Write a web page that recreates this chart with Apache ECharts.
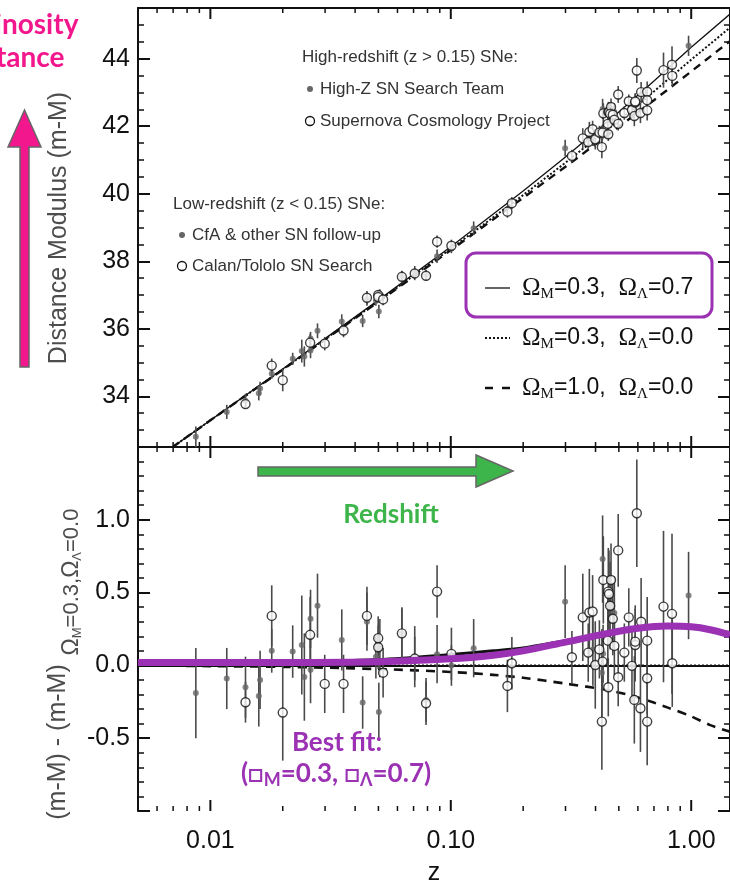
<!DOCTYPE html>
<html>
<head>
<meta charset="utf-8">
<script src="https://cdn.jsdelivr.net/npm/echarts@6/dist/echarts.min.js"></script>
<style>
  html, body { margin: 0; padding: 0; background: #fff; }
  #chart { width: 730px; height: 882px; }
</style>
</head>
<body>
<div id="chart"></div>
<script>
// ---- supernova data: redshift, distance modulus (top), residual (bottom), error ----
// low-redshift, CfA & other SN follow-up (filled)
const cfaZ   = [0.0087, 0.0117, 0.0140, 0.0159, 0.0161, 0.0180, 0.0220, 0.0240, 0.0246, 0.0261, 0.0279, 0.0261, 0.0352, 0.0430, 0.0448, 0.0507, 0.0502, 0.0488, 0.0626, 0.0708, 0.0789, 0.0877, 0.1006, 0.1245];
const cfaMu  = [32.80, 33.54, 33.87, 34.09, 34.23, 34.67, 35.11, 35.34, 35.18, 35.71, 35.94, 35.36, 36.22, 36.23, 36.88, 36.97, 36.51, 36.83, 37.54, 37.65, 37.60, 38.15, 38.38, 38.98];
const cfaRes = [-0.19, -0.09, -0.15, -0.21, -0.10, 0.10, 0.095, 0.14, -0.08, 0.32, 0.41, -0.03, 0.175, -0.255, 0.30, 0.118, -0.32, 0.06, 0.22, 0.06, -0.237, 0.077, 0.00, 0.118];
const cfaErr = [0.31, 0.21, 0.21, 0.21, 0.20, 0.15, 0.18, 0.34, 0.30, 0.20, 0.22, 0.23, 0.21, 0.18, 0.20, 0.20, 0.20, 0.15, 0.17, 0.21, 0.15, 0.20, 0.14, 0.20];

// low-redshift, Calan/Tololo SN Search (open)
const ctZ   = [0.0140, 0.0180, 0.0200, 0.0260, 0.0299, 0.0358, 0.0448, 0.0499, 0.0499, 0.0523, 0.0626, 0.0708, 0.0789, 0.0877, 0.1006, 0.1795, 0.1720];
const ctMu  = [33.77, 34.91, 34.48, 35.59, 35.56, 35.95, 36.92, 37.00, 36.94, 36.87, 37.54, 37.64, 37.57, 38.58, 38.46, 39.72, 39.47];
const ctRes = [-0.253, 0.34, -0.324, 0.21, -0.127, -0.127, 0.34, 0.187, 0.125, -0.05, 0.22, 0.047, -0.26, 0.507, 0.079, 0.015, -0.141];
const ctErr = [0.14, 0.21, 0.33, 0.26, 0.20, 0.20, 0.20, 0.15, 0.15, 0.17, 0.18, 0.15, 0.15, 0.18, 0.18, 0.18, 0.18];

// high-redshift, High-Z SN Search Team (filled)
const hzZ   = [0.299, 0.390, 0.428, 0.430, 0.425, 0.479, 0.975];
const hzMu  = [41.35, 41.66, 42.51, 41.87, 41.71, 42.42, 44.38];
const hzRes = [0.438, 0.11, 0.73, 0.08, -0.05, 0.36, 0.48];
const hzErr = [0.25, 0.25, 0.30, 0.20, 0.30, 0.25, 0.30];

// high-redshift, Supernova Cosmology Project (open)
const scpZ   = [0.319, 0.354, 0.373, 0.377, 0.389, 0.399, 0.415, 0.425, 0.431, 0.428, 0.450, 0.452, 0.452, 0.455, 0.464, 0.460, 0.472, 0.479, 0.497, 0.497, 0.527, 0.550, 0.567, 0.580, 0.585, 0.585, 0.594, 0.615, 0.619, 0.656, 0.656, 0.656, 0.767, 0.832, 0.834];
const scpMu  = [41.12, 41.64, 41.53, 41.83, 41.91, 41.61, 41.81, 41.38, 42.38, 41.81, 42.07, 41.76, 42.42, 42.42, 42.57, 42.37, 42.34, 42.19, 42.94, 42.07, 42.39, 42.74, 42.48, 42.30, 42.70, 42.73, 43.65, 42.39, 43.01, 43.02, 42.77, 42.47, 43.66, 43.82, 43.49];
const scpRes = [0.056, 0.33, 0.088, 0.363, 0.37, 0.003, 0.11, -0.386, 0.587, 0.026, 0.17, -0.15, 0.507, 0.49, 0.587, 0.41, 0.32, 0.134, 0.79, -0.081, 0.088, 0.33, -0.003, -0.237, 0.14, 0.163, 1.045, -0.294, 0.30, 0.17, -0.088, -0.386, 0.404, 0.354, 0.015];
const scpErr = [0.18, 0.30, 0.20, 0.30, 0.25, 0.30, 0.20, 0.33, 0.30, 0.20, 0.30, 0.20, 0.30, 0.30, 0.25, 0.30, 0.25, 0.20, 0.25, 0.20, 0.20, 0.20, 0.25, 0.30, 0.25, 0.25, 0.37, 0.30, 0.30, 0.30, 0.25, 0.30, 0.52, 0.55, 0.30];

// ---- model curves ----
const topModelZ  = [0.005, 0.007, 0.01, 0.02, 0.05, 0.1, 0.2, 0.3, 0.5, 0.7, 1.0, 1.45];
const topSolid   = [31.78, 32.51, 33.29, 34.81, 36.85, 38.43, 40.08, 41.09, 42.42, 43.34, 44.34, 45.32];
const topDotted  = [31.78, 32.51, 33.29, 34.80, 36.82, 38.37, 39.96, 40.92, 42.17, 43.03, 43.97, 44.92];
const topDashed  = [31.78, 32.51, 33.29, 34.79, 36.80, 38.33, 39.88, 40.80, 41.98, 42.77, 43.62, 44.52];

const botModelZ  = [0.005, 0.01, 0.02, 0.05, 0.1, 0.15, 0.2, 0.3, 0.45, 0.6, 0.8, 1.0, 1.2, 1.45];
const botSolid   = [0.01, 0.012, 0.018, 0.04, 0.075, 0.1, 0.12, 0.17, 0.22, 0.25, 0.265, 0.26, 0.245, 0.225];
const botBestFit = [0.02, 0.02, 0.02, 0.025, 0.045, 0.07, 0.1, 0.16, 0.22, 0.255, 0.27, 0.265, 0.245, 0.21];
const botDotted  = [0, 0, 0, 0, 0, 0, 0, 0, 0, 0, 0, 0, 0, 0];
const botDashed  = [0, -0.005, -0.01, -0.025, -0.045, -0.065, -0.085, -0.125, -0.17, -0.22, -0.29, -0.35, -0.41, -0.455];

// ---- ticks ----
const xMajorTicks = [0.01, 0.1, 1];
const xMinorTicks = [0.006, 0.007, 0.008, 0.009, 0.02, 0.03, 0.04, 0.05, 0.06, 0.07, 0.08, 0.09, 0.2, 0.3, 0.4, 0.5, 0.6, 0.7, 0.8, 0.9];
const topMajor = [34, 36, 38, 40, 42, 44];
const botMajor = [-1.0, -0.5, 0, 0.5, 1.0, 1.5];
const botLabels = [-0.5, 0, 0.5, 1.0];

const SANS = '"Liberation Sans", Arial, sans-serif';
const SERIF = '"Liberation Serif", "Times New Roman", serif';
const LATO = 'Lato, sans-serif';
const INK = '#111';
const PURPLE = '#9b32b4';
const PINK = '#f2178c';
const GREEN = '#3db54a';

const chart = echarts.init(document.getElementById('chart'));

function xAxis(gridIndex, position, withLabels) {
  return {
    type: 'log', logBase: 10, gridIndex, position, min: 0.005, max: 1.45,
    axisLine: { show: true, lineStyle: { color: INK, width: 2 } },
    axisTick: { show: false },
    splitLine: { show: false },
    axisLabel: withLabels ? {
      show: true, fontSize: 25, color: INK, fontFamily: SANS, margin: 18,
      formatter: v => {
        const l = Math.log10(v);
        if (Math.abs(l - Math.round(l)) > 1e-6) return '';
        return v < 0.05 ? '0.01' : (v < 0.5 ? '0.10' : '1.00');
      }
    } : { show: false },
    name: withLabels ? 'z' : '',
    nameLocation: 'middle', nameGap: 50,
    nameTextStyle: { fontSize: 25, color: INK, fontFamily: SANS }
  };
}

function yMinor(gridIndex, position, min, max, step) {
  return {
    type: 'value', gridIndex, position, min, max, interval: step,
    axisLine: { show: true, lineStyle: { color: INK, width: 2 } },
    axisTick: { show: true, inside: true, length: 6, lineStyle: { color: INK, width: 1.5 } },
    axisLabel: { show: false },
    splitLine: { show: false }
  };
}

function yMajor(gridIndex, position, min, max, ticks, labels, fmt) {
  return {
    type: 'value', gridIndex, position, min, max,
    axisLine: { show: false },
    axisTick: { show: true, inside: true, length: 12, customValues: ticks, lineStyle: { color: INK, width: 2 } },
    axisLabel: labels ? {
      show: true, customValues: labels, fontSize: 25, color: INK, fontFamily: SANS, margin: 8,
      formatter: fmt
    } : { show: false },
    splitLine: { show: false }
  };
}

function tickSeries(xi, yi, yRef, values, len) {
  return {
    type: 'custom', xAxisIndex: xi, yAxisIndex: yi, silent: true, z: 6,
    data: values.map(v => [v, yRef]),
    encode: { x: 0, y: 1 },
    renderItem: (params, api) => {
      const cs = params.coordSys;
      const px = api.coord([api.value(0), api.value(1)])[0];
      const st = { stroke: INK, lineWidth: len > 8 ? 2 : 1.5 };
      return {
        type: 'group', children: [
          { type: 'line', shape: { x1: px, y1: cs.y + cs.height, x2: px, y2: cs.y + cs.height - len }, style: st },
          { type: 'line', shape: { x1: px, y1: cs.y, x2: px, y2: cs.y + len }, style: st }
        ]
      };
    }
  };
}

function errSeries(xi, yi, zs, vals, errs) {
  return {
    type: 'custom', xAxisIndex: xi, yAxisIndex: yi, silent: true, z: 3,
    data: zs.map((z, i) => [z, vals[i] - errs[i], vals[i] + errs[i]]),
    encode: { x: 0, y: [1, 2] },
    renderItem: (params, api) => {
      const a = api.coord([api.value(0), api.value(1)]);
      const b = api.coord([api.value(0), api.value(2)]);
      return { type: 'line', shape: { x1: a[0], y1: a[1], x2: b[0], y2: b[1] }, style: { stroke: '#4a4a4a', lineWidth: 1.6 } };
    }
  };
}

function dots(xi, yi, zs, vals, open) {
  return {
    type: 'scatter', xAxisIndex: xi, yAxisIndex: yi, z: 4, silent: true,
    symbol: 'circle', symbolSize: open ? 9 : 6,
    itemStyle: open ? { color: '#fff', borderColor: INK, borderWidth: 1.4 } : { color: '#666' },
    data: zs.map((z, i) => [z, vals[i]])
  };
}

function curve(xi, yi, zs, vals, type, width, color, z, smooth) {
  return {
    type: 'line', xAxisIndex: xi, yAxisIndex: yi, z, silent: true,
    showSymbol: false, smooth: smooth || 0,
    lineStyle: { color, width, type },
    data: zs.map((x, i) => [x, vals[i]])
  };
}

const option = {
  animation: false,
  backgroundColor: '#fff',
  grid: [
    { left: 138, top: 8, width: 592, height: 439, outerBoundsMode: 'none', containLabel: false },
    { left: 138, top: 447, width: 592, height: 364, outerBoundsMode: 'none', containLabel: false }
  ],
  xAxis: [
    xAxis(0, 'bottom', false),
    xAxis(0, 'top', false),
    xAxis(1, 'bottom', true),
    xAxis(1, 'top', false)
  ],
  yAxis: [
    yMinor(0, 'left', 32.5, 45.5, 0.5),
    yMajor(0, 'left', 32.5, 45.5, topMajor, topMajor, v => String(v)),
    yMinor(0, 'right', 32.5, 45.5, 0.5),
    yMajor(0, 'right', 32.5, 45.5, topMajor, null),
    yMinor(1, 'left', -1.0, 1.5, 0.1),
    yMajor(1, 'left', -1.0, 1.5, botMajor, botLabels, v => Number(v).toFixed(1)),
    yMinor(1, 'right', -1.0, 1.5, 0.1),
    yMajor(1, 'right', -1.0, 1.5, botMajor, null)
  ],
  series: [
    // top panel
    curve(0, 0, topModelZ, topSolid, 'solid', 1.3, INK, 2),
    curve(0, 0, topModelZ, topDotted, [2, 2], 2, INK, 2),
    curve(0, 0, topModelZ, topDashed, [8, 6], 2.4, INK, 2),
    errSeries(0, 0, cfaZ, cfaMu, cfaErr),
    errSeries(0, 0, ctZ, ctMu, ctErr),
    errSeries(0, 0, hzZ, hzMu, hzErr),
    errSeries(0, 0, scpZ, scpMu, scpErr),
    dots(0, 0, cfaZ, cfaMu, false),
    dots(0, 0, ctZ, ctMu, true),
    dots(0, 0, hzZ, hzMu, false),
    dots(0, 0, scpZ, scpMu, true),
    tickSeries(0, 0, 40, xMinorTicks, 5),
    tickSeries(0, 0, 40, xMajorTicks, 11),
    // bottom panel
    curve(2, 4, botModelZ, botDotted, [2, 2], 2, INK, 2),
    curve(2, 4, botModelZ, botDashed, [9, 7], 2.6, INK, 2, 0.3),
    curve(2, 4, botModelZ, botSolid, 'solid', 3, INK, 2, 0.3),
    errSeries(2, 4, cfaZ, cfaRes, cfaErr),
    errSeries(2, 4, ctZ, ctRes, ctErr),
    errSeries(2, 4, hzZ, hzRes, hzErr),
    errSeries(2, 4, scpZ, scpRes, scpErr),
    dots(2, 4, cfaZ, cfaRes, false),
    dots(2, 4, ctZ, ctRes, true),
    dots(2, 4, hzZ, hzRes, false),
    dots(2, 4, scpZ, scpRes, true),
    curve(2, 4, botModelZ, botBestFit, 'solid', 7, PURPLE, 10, 0.3),
    tickSeries(2, 4, 0, xMinorTicks, 5),
    tickSeries(2, 4, 0, xMajorTicks, 11)
  ],
  graphic: [
    // pink annotation
    { type: 'text', x: 10, y: 25, style: { text: 'Luminosity', align: 'center', verticalAlign: 'middle', font: 'bold 28px ' + LATO, fill: PINK } },
    { type: 'text', x: 10, y: 58, style: { text: 'Distance', align: 'center', verticalAlign: 'middle', font: 'bold 28px ' + LATO, fill: PINK } },
    { type: 'polygon', shape: { points: [[20, 367], [20, 147], [8, 147], [24.5, 110], [41, 147], [29, 147], [29, 367]] },
      style: { fill: PINK, stroke: '#666', lineWidth: 1.5 } },
    // green annotation
    { type: 'polygon', shape: { points: [[258, 467], [476, 467], [476, 455], [513, 471], [476, 487], [476, 476], [258, 476]] },
      style: { fill: GREEN, stroke: '#666', lineWidth: 1.5 } },
    { type: 'text', x: 391, y: 515, style: { text: 'Redshift', align: 'center', verticalAlign: 'middle', font: 'bold 26px ' + LATO, fill: GREEN } },
    // best fit
    { type: 'text', x: 337, y: 743, z: 20, style: { text: 'Best fit:', align: 'center', verticalAlign: 'middle', font: 'bold 26px ' + LATO, fill: PURPLE } },
    { type: 'text', x: 336, y: 774, z: 20, style: {
      text: '{t|(□}{s|M}{t|=0.3, □}{s|Λ}{t|=0.7)}', align: 'center', verticalAlign: 'middle',
      rich: {
        t: { fontFamily: LATO, fontWeight: 'bold', fontSize: 26, lineHeight: 30, verticalAlign: 'middle', fill: PURPLE },
        s: { fontFamily: LATO, fontWeight: 'bold', fontSize: 18, lineHeight: 16, verticalAlign: 'bottom', fill: PURPLE }
      } } },
    // axis titles
    { type: 'text', x: 59, y: 228, rotation: Math.PI / 2, style: { text: 'Distance Modulus (m-M)', align: 'center', verticalAlign: 'middle', font: '25px ' + SANS, fill: '#4d4d4d' } },
    { type: 'text', x: 58, y: 742, rotation: Math.PI / 2, style: { text: '(m-M) - (m-M)', align: 'center', verticalAlign: 'middle', font: '25px ' + SANS, fill: '#4d4d4d' } },
    { type: 'text', x: 72, y: 582, rotation: Math.PI / 2, style: {
      text: '{o|Ω}{s|M}{b|=0.3,}{o|Ω}{s|Λ}{b|=0.0}', align: 'center', verticalAlign: 'middle',
      rich: {
        o: { fontFamily: SANS, fontSize: 23, lineHeight: 24, verticalAlign: 'middle', fill: '#4d4d4d' },
        b: { fontFamily: SANS, fontSize: 22, lineHeight: 24, verticalAlign: 'middle', fill: '#4d4d4d' },
        s: { fontFamily: SANS, fontSize: 13, lineHeight: 12, verticalAlign: 'bottom', fill: '#4d4d4d' }
      } } },
    // sample legends
    { type: 'text', x: 302, y: 57, style: { text: 'High-redshift (z > 0.15) SNe:', verticalAlign: 'middle', font: '17px ' + SANS, fill: '#333' } },
    { type: 'circle', shape: { cx: 310, cy: 89, r: 3 }, style: { fill: '#666' } },
    { type: 'text', x: 320, y: 89, style: { text: 'High-Z SN Search Team', verticalAlign: 'middle', font: '17px ' + SANS, fill: '#333' } },
    { type: 'circle', shape: { cx: 310, cy: 121, r: 4.5 }, style: { fill: '#fff', stroke: INK, lineWidth: 1.3 } },
    { type: 'text', x: 320, y: 121, style: { text: 'Supernova Cosmology Project', verticalAlign: 'middle', font: '17px ' + SANS, fill: '#333' } },
    { type: 'text', x: 173, y: 204, style: { text: 'Low-redshift (z < 0.15) SNe:', verticalAlign: 'middle', font: '17px ' + SANS, fill: '#333' } },
    { type: 'circle', shape: { cx: 182, cy: 235, r: 3 }, style: { fill: '#666' } },
    { type: 'text', x: 192, y: 235, style: { text: 'CfA & other SN follow-up', verticalAlign: 'middle', font: '17px ' + SANS, fill: '#333' } },
    { type: 'circle', shape: { cx: 182, cy: 266, r: 4.5 }, style: { fill: '#fff', stroke: INK, lineWidth: 1.3 } },
    { type: 'text', x: 192, y: 266, style: { text: 'Calan/Tololo SN Search', verticalAlign: 'middle', font: '17px ' + SANS, fill: '#333' } },
    // model legend
    { type: 'rect', shape: { x: 466, y: 253, width: 246, height: 64, r: 10 }, style: { fill: '#fff', stroke: PURPLE, lineWidth: 3 } },
    { type: 'line', shape: { x1: 485, y1: 288, x2: 510, y2: 288 }, style: { stroke: INK, lineWidth: 1.3 } },
    { type: 'line', shape: { x1: 485, y1: 338, x2: 510, y2: 338 }, style: { stroke: INK, lineWidth: 2, lineDash: [2, 2] } },
    { type: 'line', shape: { x1: 485, y1: 388, x2: 510, y2: 388 }, style: { stroke: INK, lineWidth: 2.4, lineDash: [8, 9] } },
    ...[['0.3', '0.7', 288], ['0.3', '0.0', 338], ['1.0', '0.0', 388]].map(([m, l, y]) => ({
      type: 'text', x: 522, y, style: {
        text: '{o|Ω}{s|M}{n|=' + m + ',  }{o|Ω}{s|Λ}{n|=' + l + '}', verticalAlign: 'middle',
        rich: {
          o: { fontFamily: SERIF, fontSize: 25, lineHeight: 28, verticalAlign: 'middle', fill: INK },
          n: { fontFamily: SANS, fontSize: 23, lineHeight: 28, verticalAlign: 'middle', fill: INK },
          s: { fontFamily: SERIF, fontSize: 15, lineHeight: 14, verticalAlign: 'bottom', fill: INK }
        }
      }
    }))
  ]
};

chart.setOption(option);
</script>
</body>
</html>
